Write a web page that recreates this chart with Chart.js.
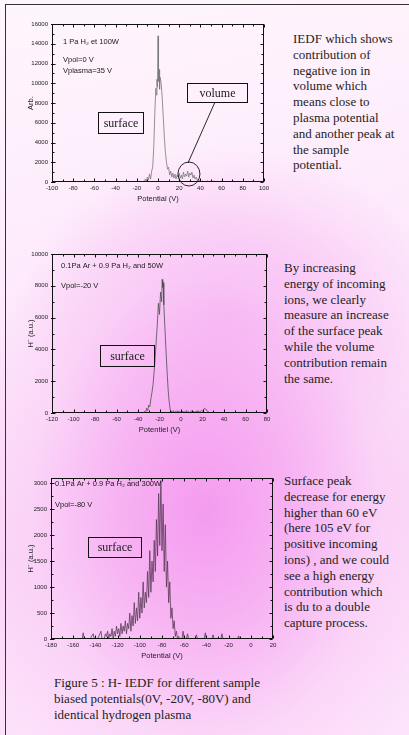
<!DOCTYPE html>
<html>
<head>
<meta charset="utf-8">
<script src="https://cdn.jsdelivr.net/npm/chart.js@4.4.1/dist/chart.umd.min.js"></script>
<style>
  html, body { margin: 0; padding: 0; }
  body {
    width: 409px; height: 735px; overflow: hidden; position: relative;
    font-family: "Liberation Serif", "Times New Roman", serif; color: #241d24;
    background:
      radial-gradient(ellipse 250px 330px at 205px 510px, rgba(244,152,239,0.95) 0%, rgba(246,168,241,0.8) 35%, rgba(249,200,246,0.45) 70%, rgba(252,225,250,0) 100%),
      radial-gradient(ellipse 210px 170px at 230px 315px, rgba(246,168,241,0.75) 0%, rgba(247,175,242,0.35) 55%, rgba(247,175,242,0) 100%),
      linear-gradient(170deg, #fff6fd 0%, #fdeafb 35%, #fbdaf8 70%, #fde4fb 100%);
  }
  .frame { position: absolute; left: 5px; top: 4px; width: 430px; height: 760px; border: 1px solid #333; box-sizing: border-box; }
  canvas { position: absolute; }
  .note { position: absolute; font-size: 13px; line-height: 15.8px; white-space: nowrap; }
</style>
</head>
<body>
<div class="frame"></div>
<canvas id="c1" width="248" height="189" style="left:26px;top:14px"></canvas>
<canvas id="c2" width="251" height="190" style="left:26px;top:244px"></canvas>
<canvas id="c3" width="257" height="192" style="left:26px;top:468px"></canvas>

<div class="note" style="left:293px;top:31px">IEDF which shows<br>contribution of<br>negative ion in<br>volume which<br>means close to<br>plasma potential<br>and another peak at<br>the sample<br>potential.</div>
<div class="note" style="left:284px;top:260px">By increasing<br>energy of incoming<br>ions, we clearly<br>measure an increase<br>of the surface peak<br>while the volume<br>contribution remain<br>the same.</div>
<div class="note" style="left:284px;top:473px">Surface peak<br>decrease for energy<br>higher than 60 eV<br>(here 105 eV for<br>positive incoming<br>ions) , and we could<br>see a high energy<br>contribution which<br>is du to a double<br>capture process.</div>
<div class="note" style="left:54px;top:675px">Figure 5 : H- IEDF for different sample<br>biased potentials(0V, -20V, -80V) and<br>identical hydrogen plasma</div>

<script>
// chart 1 : Vpol = 0 V
const pot1 = [-100, -50, -20, -15, -14, -13, -12, -11, -10, -9, -8, -7, -6, -5, -4, -3, -2,
  -1.5, -1, -0.5, 0, 0.5, 1, 1.5, 2,
  3, 4, 5, 6, 7, 8, 9, 10, 11, 12, 13, 14, 15, 16, 17, 18, 19, 20, 21, 22, 23, 24,
  25, 26, 27, 28, 29, 30, 31, 32, 33, 34, 35, 36, 37, 38, 39, 40, 41, 42, 43, 44, 45,
  47, 48, 50, 51, 53, 54, 56, 57, 60, 61, 65, 66, 70, 100];
const arb1 = [0, 0, 0, 0, 100, 0, 300, 100, 500, 200, 800, 300, 1100, 1500, 3500, 7000, 9500,
  8800, 10400, 9600, 14800, 10200, 11400, 9400, 10600,
  10000, 8500, 6500, 4500, 3000, 2000, 1300, 1500, 700, 1100, 500, 900, 400, 800, 300, 700, 500, 900, 400, 700, 300, 1000,
  500, 800, 600, 1100, 500, 900, 700, 1000, 400, 700, 300, 500, 200, 300, 100, 150, 0, 100, 0, 50, 0,
  120, 0, 80, 0, 100, 0, 60, 0, 80, 0, 50, 0, 0, 0];
const ticksX1 = [-100, -80, -60, -40, -20, 0, 20, 40, 60, 80, 100];
const ticksY1 = [0, 2000, 4000, 6000, 8000, 10000, 12000, 14000, 16000];

// chart 2 : Vpol = -20 V
const pot2 = [-120, -40, -35, -34, -33, -32, -31, -30, -29, -28, -27, -26, -25, -24, -23, -22, -21, -20, -19, -18,
  -17.5, -17, -16.5, -16,
  -15, -14, -13, -12, -11, -10, -9, -8, -7, -6, -5, -4, -3, -2, -1, 0, 1, 2, 3, 4, 5, 6, 7, 8, 9, 10,
  11, 12, 13, 14, 15, 16, 17, 18, 19, 20, 21, 22, 23, 24, 25, 26, 27, 30, 80];
const hMinus2 = [0, 0, 0, 100, 0, 300, 150, 500, 400, 900, 1300, 1800, 2600, 3500, 4600, 5600, 6900, 6200, 7600, 7000,
  8400, 7900, 8200, 6800,
  5400, 4000, 2700, 1500, 700, 200, 100, 50, 150, 0, 100, 50, 150, 0, 100, 0, 120, 50, 100, 0, 150, 50, 100, 0, 80, 150,
  50, 100, 0, 120, 60, 150, 50, 100, 150, 100, 200, 300, 250, 150, 100, 50, 0, 0, 0];
const ticksX2 = [-120, -100, -80, -60, -40, -20, 0, 20, 40, 60, 80];
const ticksY2 = [0, 2000, 4000, 6000, 8000, 10000];

// chart 3 : Vpol = -80 V
const pot3 = [-180, -155, -152, -151, -150, -145, -142, -141, -138, -135, -134, -132,
  -131, -130, -129, -128, -127, -126, -125, -124, -123, -122,
  -121, -120, -119, -118, -117, -116, -115, -114, -113, -112,
  -111, -110, -109, -108, -107, -106, -105, -104, -103, -102,
  -101, -100, -99, -98, -97, -96, -95, -94, -93, -92,
  -91, -90, -89, -88, -87, -86, -85, -84, -83, -82,
  -81, -80, -79, -78, -77, -76, -75, -74, -73, -72,
  -71, -70, -69, -68, -67, -66, -65, -64,
  -62, -61, -60, -58, -57, -56, -50, -49, -48, -42, -41, -40, -35, -34, -33, -27, -26, -25, -12, -11, -10, 20];
const hMinus3 = [0, 0, 0, 120, 0, 0, 100, 0, 0, 150, 0, 0,
  100, 50, 150, 0, 100, 50, 200, 0, 150, 50,
  250, 100, 200, 50, 300, 100, 250, 150, 350, 100,
  300, 200, 500, 150, 450, 250, 700, 300, 600, 350,
  900, 400, 800, 500, 1100, 600, 900, 700, 1300, 800,
  1700, 900, 1500, 1100, 1900, 1300, 2300, 1600, 2800, 1800,
  3050, 1700, 2600, 1300, 2200, 1000, 1500, 700, 1100, 400,
  600, 200, 350, 50, 150, 0, 50, 0,
  0, 150, 0, 0, 100, 0, 0, 80, 0, 0, 120, 0, 0, 80, 0, 0, 100, 0, 0, 60, 0, 0];
const ticksX3 = [-180, -160, -140, -120, -100, -80, -60, -40, -20, 0, 20];
const ticksY3 = [0, 500, 1000, 1500, 2000, 2500, 3000];

const xTitles = ['Potential (V)', 'Potentiel (V)', 'Potential (V)'];
const yTitles = ['Arb.', 'H\u207B (a.u.)', 'H\u207B (a.u.)'];

const sans = '"Liberation Sans", Arial, sans-serif';
const serif = '"Liberation Serif", "Times New Roman", serif';
const tickFont = { family: sans, size: 6 };
const titleFont = { family: sans, size: 7.5 };

// annotations in data units, looked up by canvas id
const notes = {
  c1: {
    texts: [[-89.6, 14177, '1 Pa H\u2082 et 100W'], [-89.6, 12354, 'Vpol=0 V'], [-89.6, 11240, 'Vplasma=35 V']],
    boxes: [[-56.6, 4962, -14.2, 7089, 'surface'], [27.4, 8101, 84, 10025, 'volume']],
    lines: [[53.8, 8101, 28.3, 1924]],
    rings: [[29.2, 810, 11, 12]]
  },
  c2: {
    texts: [[-111.6, 9245, '0.1Pa Ar + 0.9 Pa H\u2082 and 50W'], [-111.6, 7987, 'Vpol=-20 V']],
    boxes: [[-75.3, 2956, -25.1, 4277, 'surface']],
    lines: [], rings: []
  },
  c3: {
    texts: [[-176.4, 2980, '0.1Pa Ar + 0.9 Pa H\u2082 and 300W'], [-176.4, 2577, 'Vpol=-80 V']],
    boxes: [[-146.7, 1577, -98.9, 1962, 'surface']],
    lines: [], rings: []
  }
};

const axisFrame = {
  id: 'axisFrame',
  afterDraw(chart) {
    const { ctx, chartArea: a, scales: { x, y } } = chart;
    const L = Math.round(a.left) + 0.5, R = Math.round(a.right) - 0.5;
    const T = Math.round(a.top) + 0.5, B = Math.round(a.bottom) - 0.5;
    ctx.save();
    ctx.strokeStyle = '#111';
    ctx.lineWidth = 1;
    ctx.strokeRect(L, T, R - L, B - T);

    ctx.beginPath();
    const xv = x.ticks.map(t => t.value);
    xv.forEach((v, i) => {
      const p = Math.round(x.getPixelForValue(v)) + 0.5;
      ctx.moveTo(p, B); ctx.lineTo(p, B - 3);
      ctx.moveTo(p, T); ctx.lineTo(p, T + 3);
      if (i + 1 < xv.length) {
        const m = Math.round(x.getPixelForValue((v + xv[i + 1]) / 2)) + 0.5;
        ctx.moveTo(m, B); ctx.lineTo(m, B - 2);
        ctx.moveTo(m, T); ctx.lineTo(m, T + 2);
      }
    });
    const yv = y.ticks.map(t => t.value);
    yv.forEach((v, i) => {
      const p = Math.round(y.getPixelForValue(v)) + 0.5;
      ctx.moveTo(L - 1.5, p); ctx.lineTo(L + 3, p);
      ctx.moveTo(R, p); ctx.lineTo(R - 3, p);
      if (i + 1 < yv.length) {
        const m = Math.round(y.getPixelForValue((v + yv[i + 1]) / 2)) + 0.5;
        ctx.moveTo(L, m); ctx.lineTo(L + 2, m);
        ctx.moveTo(R, m); ctx.lineTo(R - 2, m);
      }
    });
    ctx.stroke();

    const n = notes[chart.canvas.id];
    ctx.fillStyle = '#1a1a1a';
    ctx.font = '7.5px ' + sans;
    ctx.textAlign = 'left';
    ctx.textBaseline = 'middle';
    n.texts.forEach(([tx, ty, s]) => ctx.fillText(s, x.getPixelForValue(tx), y.getPixelForValue(ty)));

    ctx.font = '12px ' + serif;
    ctx.textAlign = 'center';
    n.boxes.forEach(([x0, y0, x1, y1, s]) => {
      const l = Math.round(x.getPixelForValue(x0)) + 0.5, r = Math.round(x.getPixelForValue(x1)) + 0.5;
      const t = Math.round(y.getPixelForValue(y1)) + 0.5, b = Math.round(y.getPixelForValue(y0)) + 0.5;
      ctx.strokeRect(l, t, r - l, b - t);
      ctx.fillText(s, (l + r) / 2, (t + b) / 2 + 0.5);
    });

    ctx.lineWidth = 0.9;
    n.lines.forEach(([x0, y0, x1, y1]) => {
      ctx.beginPath();
      ctx.moveTo(x.getPixelForValue(x0), y.getPixelForValue(y0));
      ctx.lineTo(x.getPixelForValue(x1), y.getPixelForValue(y1));
      ctx.stroke();
    });
    n.rings.forEach(([cx, cy, rx, ry]) => {
      ctx.beginPath();
      ctx.ellipse(x.getPixelForValue(cx), y.getPixelForValue(cy), rx, ry, 0, 0, Math.PI * 2);
      ctx.stroke();
    });
    ctx.restore();
  }
};

function makeChart(id, xs, ys, cfg) {
  return new Chart(document.getElementById(id), {
    type: 'line',
    data: {
      datasets: [{
        data: xs.map((v, i) => ({ x: v, y: ys[i] })),
        borderColor: cfg.color,
        borderWidth: 0.8,
        pointRadius: 0,
        tension: 0,
        fill: false
      }]
    },
    options: {
      responsive: false,
      animation: false,
      devicePixelRatio: 1,
      layout: { padding: { top: 10, right: 10, left: 0, bottom: 0 } },
      plugins: { legend: { display: false }, tooltip: { enabled: false } },
      scales: {
        x: {
          type: 'linear', min: cfg.xTicks[0], max: cfg.xTicks[cfg.xTicks.length - 1],
          afterBuildTicks: s => { s.ticks = cfg.xTicks.map(v => ({ value: v })); },
          ticks: { font: tickFont, color: '#222', padding: 3, maxRotation: 0, autoSkip: false, callback: v => String(v) },
          grid: { display: false, drawTicks: false },
          border: { display: false },
          title: { display: true, text: cfg.xTitle, font: titleFont, color: '#222', padding: 0 },
          afterFit: s => { s.height = 21; }
        },
        y: {
          type: 'linear', min: 0, max: cfg.yMax,
          afterBuildTicks: s => { s.ticks = cfg.yTicks.map(v => ({ value: v })); },
          ticks: { font: tickFont, color: '#222', padding: 4, autoSkip: false, callback: v => String(v) },
          grid: { display: false, drawTicks: false },
          border: { display: false },
          title: { display: true, text: cfg.yTitle, font: titleFont, color: '#222', padding: 0 },
          afterFit: s => { s.width = cfg.yWidth; }
        }
      }
    },
    plugins: [axisFrame]
  });
}

makeChart('c1', pot1, arb1, { color: '#7a7a7a', xTicks: ticksX1, yTicks: ticksY1, yMax: 16000, yWidth: 26, xTitle: xTitles[0], yTitle: yTitles[0] });
makeChart('c2', pot2, hMinus2, { color: '#4e4e4e', xTicks: ticksX2, yTicks: ticksY2, yMax: 10000, yWidth: 26, xTitle: xTitles[1], yTitle: yTitles[1] });
makeChart('c3', pot3, hMinus3, { color: '#5a3a57', xTicks: ticksX3, yTicks: ticksY3, yMax: 3100, yWidth: 25, xTitle: xTitles[2], yTitle: yTitles[2] });
</script>
</body>
</html>
